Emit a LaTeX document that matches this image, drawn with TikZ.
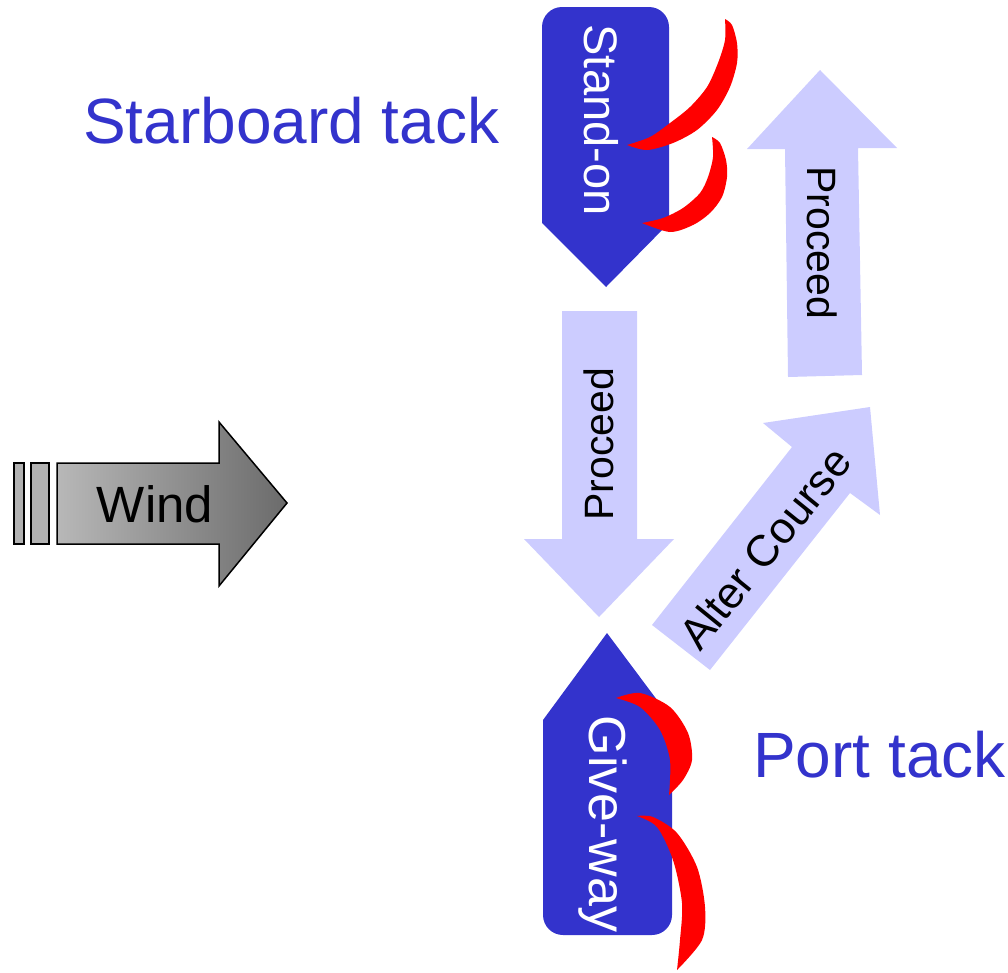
\documentclass[tikz,border=0pt]{standalone}
\usepackage{fontspec}
\setmainfont{Liberation Sans}
\definecolor{boatblue}{HTML}{3333CC}
\definecolor{lightarrow}{HTML}{CCCCFF}
\definecolor{sailred}{HTML}{FF0000}
\begin{document}
\begin{tikzpicture}[x=1pt,y=-1pt,
  boat/.style={fill=boatblue},
  course/.style={fill=lightarrow},
  sail/.style={fill=sailred},
  bluelabel/.style={text=boatblue,font=\fontsize{64}{70}\selectfont,inner sep=0pt},
  boatlabel/.style={text=white,inner sep=0pt},
  courselabel/.style={text=black,inner sep=0pt,font=\fontsize{41}{46}\selectfont},
  windbar/.style={fill=gray!60!white,draw=black,line width=1.5pt}]
\useasboundingbox (0,0) rectangle (1008,972);

% Wind arrow
\draw[windbar] (14,463) rectangle (24,544);
\draw[windbar] (31,463) rectangle (49,544);
\shade[left color=black!28,right color=black!58,draw=black,line width=1.5pt]
  (57,463) -- (219,463) -- (219,422) -- (287,503) -- (219,586) -- (219,544) -- (57,544) -- cycle;
\node[inner sep=0pt,font=\fontsize{51}{56}\selectfont,anchor=base] (wind) at (155,522) {Wind};

% Course arrows
\fill[course] (562,311) -- (637,311) -- (637,539) -- (674,539) -- (599,617) -- (524,539) -- (562,539) -- cycle;
\node[courselabel,rotate=90] (proc1) at (599,444) {Proceed};
\fill[course] (788,377) -- (785,149) -- (747,149) -- (820,70) -- (897,148) -- (858,148) -- (862,375) -- cycle;
\node[courselabel,rotate=-90] (proc2) at (822,243) {Proceed};
\fill[course] (652,625) -- (792,447) -- (763,423) -- (870,407) -- (880,515) -- (850,493) -- (710,670) -- cycle;
\node[courselabel,rotate=51,font=\fontsize{44}{48}\selectfont] (alter) at (765,548) {Alter Course};

% Stand-on boat
\fill[boat] (542,223) -- (542,27) arc[start angle=180,end angle=270,radius=20] -- (649,7)
  arc[start angle=270,end angle=360,radius=20] -- (669,223) -- (606,287) -- cycle;
\node[boatlabel,rotate=-90,font=\fontsize{47}{52}\selectfont] (standon) at (601,120) {Stand-on};
\fill[sail] plot[smooth] coordinates {(725,19) (732,25) (737,43) (737,63) (730,87) (717,110) (697,130) (673,143) (647,150) (627,145)}
  -- plot[smooth] coordinates {(627,145) (650,137) (670,123) (690,107) (707,87) (718,63) (725,40) (725,19)} -- cycle;
\fill[sail] plot[smooth] coordinates {(712,137) (720,143) (726,160) (727,177) (722,197) (710,213) (693,225) (670,232) (642,223)}
  -- plot[smooth] coordinates {(642,223) (663,218) (683,208) (700,193) (708,177) (713,157) (712,137)} -- cycle;

% Give-way boat
\fill[boat] (607,633) -- (672,720) -- (672,915) arc[start angle=0,end angle=90,radius=20]
  -- (563,935) arc[start angle=90,end angle=180,radius=20] -- (543,720) -- cycle;
\node[boatlabel,rotate=-90,font=\fontsize{52}{57}\selectfont] (giveway) at (603,824) {Give-way};
\fill[sail] plot[smooth] coordinates {(616,698) (640,693) (670,707) (688,733) (692,760) (683,780) (669,795)}
  -- plot[smooth] coordinates {(669,795) (670,760) (660,730) (640,707) (616,698)} -- cycle;
\fill[sail] plot[smooth] coordinates {(637,816) (653,817) (677,833) (697,867) (705,907) (702,940) (677,970)}
  -- plot[smooth] coordinates {(677,970) (680,940) (682,903) (673,860) (657,827) (637,816)} -- cycle;

% Labels
\node[bluelabel,anchor=base west] (starboard) at (83,143) {Starboard tack};
\node[bluelabel,anchor=base west] (port) at (753,777) {Port tack};
\end{tikzpicture}
\end{document}
